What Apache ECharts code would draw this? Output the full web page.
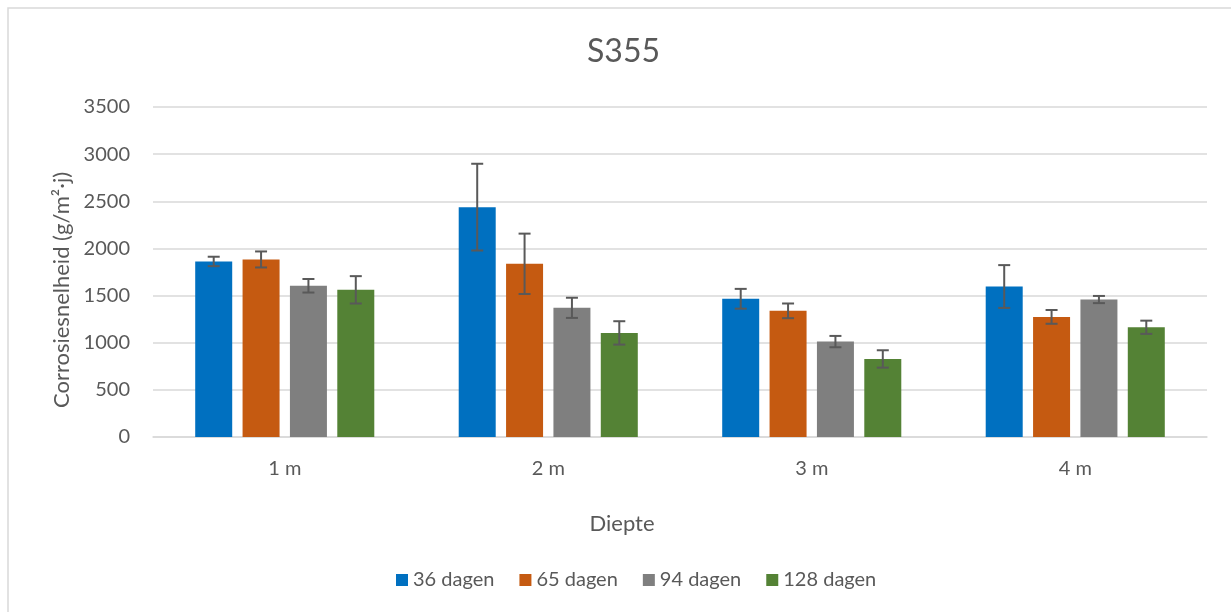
<!DOCTYPE html>
<html>
<head>
<meta charset="utf-8">
<script src="https://cdn.jsdelivr.net/npm/echarts@6/dist/echarts.min.js"></script>
<style>
  html, body { margin: 0; padding: 0; background: #fff; }
  #chart { width: 1231px; height: 612px; }
</style>
</head>
<body>
<div id="chart"></div>
<script>
// Depth categories and y tick range
const categories = ['1 m', '2 m', '3 m', '4 m'];
const yTicks = { min: 0, max: 3500, step: 500 };

// Corrosion rate per exposure time (g/m²·j) and their error margins
const seriesNames = ['36 dagen', '65 dagen', '94 dagen', '128 dagen'];
const rate36 = [1862, 2438, 1466, 1596];
const rate65 = [1883, 1837, 1338, 1274];
const rate94 = [1604, 1370, 1012, 1458];
const rate128 = [1561, 1104, 828, 1164];
const err36 = [50, 460, 105, 227];
const err65 = [85, 320, 78, 73];
const err94 = [72, 107, 60, 38];
const err128 = [145, 124, 92, 70];

const colors = ['#0070C0', '#C55A11', '#7F7F7F', '#548235'];
const textColor = '#595959';
const font = 'Lato';
const BAR_W = 37;
const BAR_GAP = 0.28;

const values = [rate36, rate65, rate94, rate128];
const errors = [err36, err65, err94, err128];

const barSeries = seriesNames.map((name, i) => ({
  name: name,
  type: 'bar',
  data: values[i],
  barWidth: BAR_W,
  barGap: (BAR_GAP * 100) + '%',
  itemStyle: { color: colors[i] },
  z: 2
}));

// Error bars drawn as whiskers centred on each bar of the group
const errorSeries = seriesNames.map((name, i) => ({
  name: name + ' fout',
  type: 'custom',
  z: 5,
  data: values[i].map((v, k) => [k, v - errors[i][k], v + errors[i][k]]),
  renderItem: function (params, api) {
    const offset = (i - 1.5) * BAR_W * (1 + BAR_GAP);
    const lo = api.coord([api.value(0), api.value(1)]);
    const hi = api.coord([api.value(0), api.value(2)]);
    const x = lo[0] + offset;
    const cap = 6;
    const style = { stroke: textColor, lineWidth: 2 };
    return {
      type: 'group',
      children: [
        { type: 'line', shape: { x1: x, y1: lo[1], x2: x, y2: hi[1] }, style: style },
        { type: 'line', shape: { x1: x - cap, y1: hi[1], x2: x + cap, y2: hi[1] }, style: style },
        { type: 'line', shape: { x1: x - cap, y1: lo[1], x2: x + cap, y2: lo[1] }, style: style }
      ]
    };
  }
}));

const chart = echarts.init(document.getElementById('chart'), null, { renderer: 'canvas' });
chart.setOption({
  animation: false,
  backgroundColor: '#fff',
  textStyle: { fontFamily: font, color: textColor },
  graphic: [{
    type: 'rect',
    shape: { x: 8, y: 8, width: 1240, height: 620 },
    style: { fill: 'none', stroke: '#d9d9d9', lineWidth: 1.5 },
    silent: true
  }],
  title: {
    text: 'S355',
    left: 587,
    top: 36,
    padding: 0,
    textStyle: { fontFamily: font, fontSize: 32, fontWeight: 'normal', color: textColor }
  },
  legend: {
    data: seriesNames,
    bottom: 22,
    left: 396,
    padding: 0,
    icon: 'rect',
    itemWidth: 12,
    itemHeight: 12,
    itemGap: 25,
    textStyle: { fontFamily: font, fontSize: 20, color: textColor }
  },
  grid: { left: 153, right: 24, top: 107, bottom: 175, containLabel: false },
  xAxis: {
    type: 'category',
    data: categories,
    name: 'Diepte',
    nameLocation: 'middle',
    nameGap: 76,
    nameTextStyle: { fontFamily: font, fontSize: 22, color: textColor, padding: [0, 116, 0, 0] },
    axisLine: { lineStyle: { color: '#d9d9d9', width: 1.5 } },
    axisTick: { show: false },
    axisLabel: { margin: 22, fontFamily: font, fontSize: 20, color: textColor }
  },
  yAxis: {
    type: 'value',
    min: yTicks.min,
    max: yTicks.max,
    interval: yTicks.step,
    name: 'Corrosiesnelheid (g/m²·j)',
    nameLocation: 'middle',
    nameGap: 76,
    nameTextStyle: { fontFamily: font, fontSize: 22, color: textColor, padding: [0, 36, 0, 0] },
    axisLine: { show: false },
    axisTick: { show: false },
    axisLabel: {
      margin: 23, fontFamily: font, fontSize: 20, color: textColor,
      formatter: (v) => String(v)
    },
    splitLine: { lineStyle: { color: '#d9d9d9', width: 1.5 } }
  },
  series: barSeries.concat(errorSeries)
});
</script>
</body>
</html>
